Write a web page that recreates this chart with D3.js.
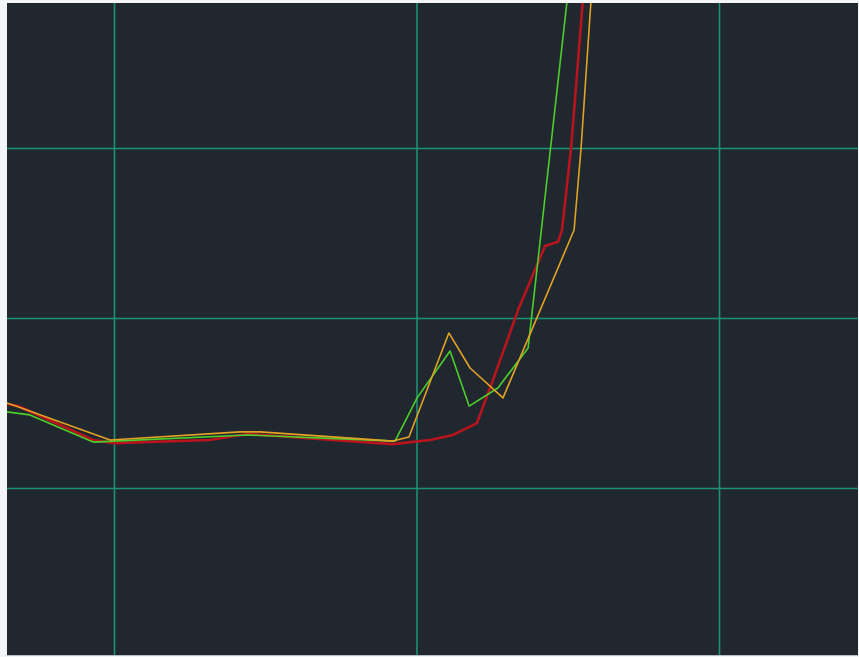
<!DOCTYPE html>
<html>
<head>
<meta charset="utf-8">
<script src="https://cdn.jsdelivr.net/npm/d3@7"></script>
<style>
  html, body { margin: 0; padding: 0; background: #f4f5f6; }
  svg { display: block; }
</style>
</head>
<body>
<svg id="chart" width="859" height="657"></svg>
<script>
// ---- data ----
const xTicks = [10, 20, 30];
const yTicks = [0, 50, 100];

const redX = [6.46, 6.83, 9.31, 10, 13.17, 14.40, 19.22, 20.45, 21.21, 22.0, 22.53, 23.36, 24.25, 24.68, 24.81, 25.11, 25.50, 25.70];
const redY = [24.7, 24.1, 14.1, 13.2, 14.1, 15.9, 12.9, 14.1, 15.6, 19.1, 31.8, 52.4, 71.2, 72.4, 75.9, 100, 143.5, 164.1];

const greenX = [6.46, 7.22, 9.31, 10, 14.40, 19.29, 20.02, 21.11, 21.74, 22.69, 23.69, 24.98, 25.24];
const greenY = [22.4, 21.5, 13.5, 13.8, 15.6, 13.8, 26.5, 40.3, 24.1, 29.4, 41.2, 143.5, 164.1];

const orangeX = [6.46, 6.66, 9.87, 14.17, 14.83, 19.22, 19.75, 21.07, 21.77, 22.86, 25.21, 25.44, 25.77, 25.93];
const orangeY = [25.0, 24.4, 14.1, 16.5, 16.5, 13.8, 15.0, 45.6, 35.3, 26.5, 75.9, 100, 143.5, 164.1];

const series = [
  { name: "red", xs: redX, ys: redY, color: "#b8141e", width: 2.6 },
  { name: "green", xs: greenX, ys: greenY, color: "#4ccf2a", width: 1.6 },
  { name: "orange", xs: orangeX, ys: orangeY, color: "#e2a324", width: 1.6 }
];

// ---- layout ----
const svg = d3.select("#chart");
const pLeft = 7, pRight = 858, pTop = 3, pBottom = 655;

const x = d3.scaleLinear().domain([6.463, 34.595]).range([pLeft, pRight]);
const y = d3.scaleLinear().domain([-49.12, 142.65]).range([pBottom, pTop]);

svg.append("defs").append("clipPath").attr("id", "clip")
  .append("rect").attr("x", pLeft).attr("y", pTop)
  .attr("width", pRight - pLeft).attr("height", pBottom - pTop);

svg.append("rect").attr("x", pLeft).attr("y", pTop)
  .attr("width", pRight - pLeft).attr("height", pBottom - pTop)
  .attr("fill", "#21272f");

// grid via axes
const gx = svg.append("g").attr("transform", `translate(0,${pBottom})`)
  .call(d3.axisBottom(x).tickValues(xTicks).tickSize(-(pBottom - pTop)).tickFormat(""));
const gy = svg.append("g").attr("transform", `translate(${pLeft},0)`)
  .call(d3.axisLeft(y).tickValues(yTicks).tickSize(-(pRight - pLeft)).tickFormat(""));
[gx, gy].forEach(g => {
  g.select(".domain").remove();
  g.selectAll(".tick line").attr("stroke", "#1b9274").attr("stroke-width", 1.6);
});

const line = d3.line().x(d => x(d[0])).y(d => y(d[1]));
const lines = svg.append("g").attr("clip-path", "url(#clip)");
series.forEach(s => {
  const pts = s.xs.map((v, i) => [v, s.ys[i]]);
  lines.append("path").datum(pts)
    .attr("d", line)
    .attr("fill", "none")
    .attr("stroke", s.color)
    .attr("stroke-width", s.width)
    .attr("stroke-linejoin", "round");
});

// bottom border line
svg.append("line").attr("x1", pLeft).attr("x2", pRight).attr("y1", pBottom + 0.5).attr("y2", pBottom + 0.5)
  .attr("stroke", "#b9bcc0").attr("stroke-width", 1);
</script>
</body>
</html>
